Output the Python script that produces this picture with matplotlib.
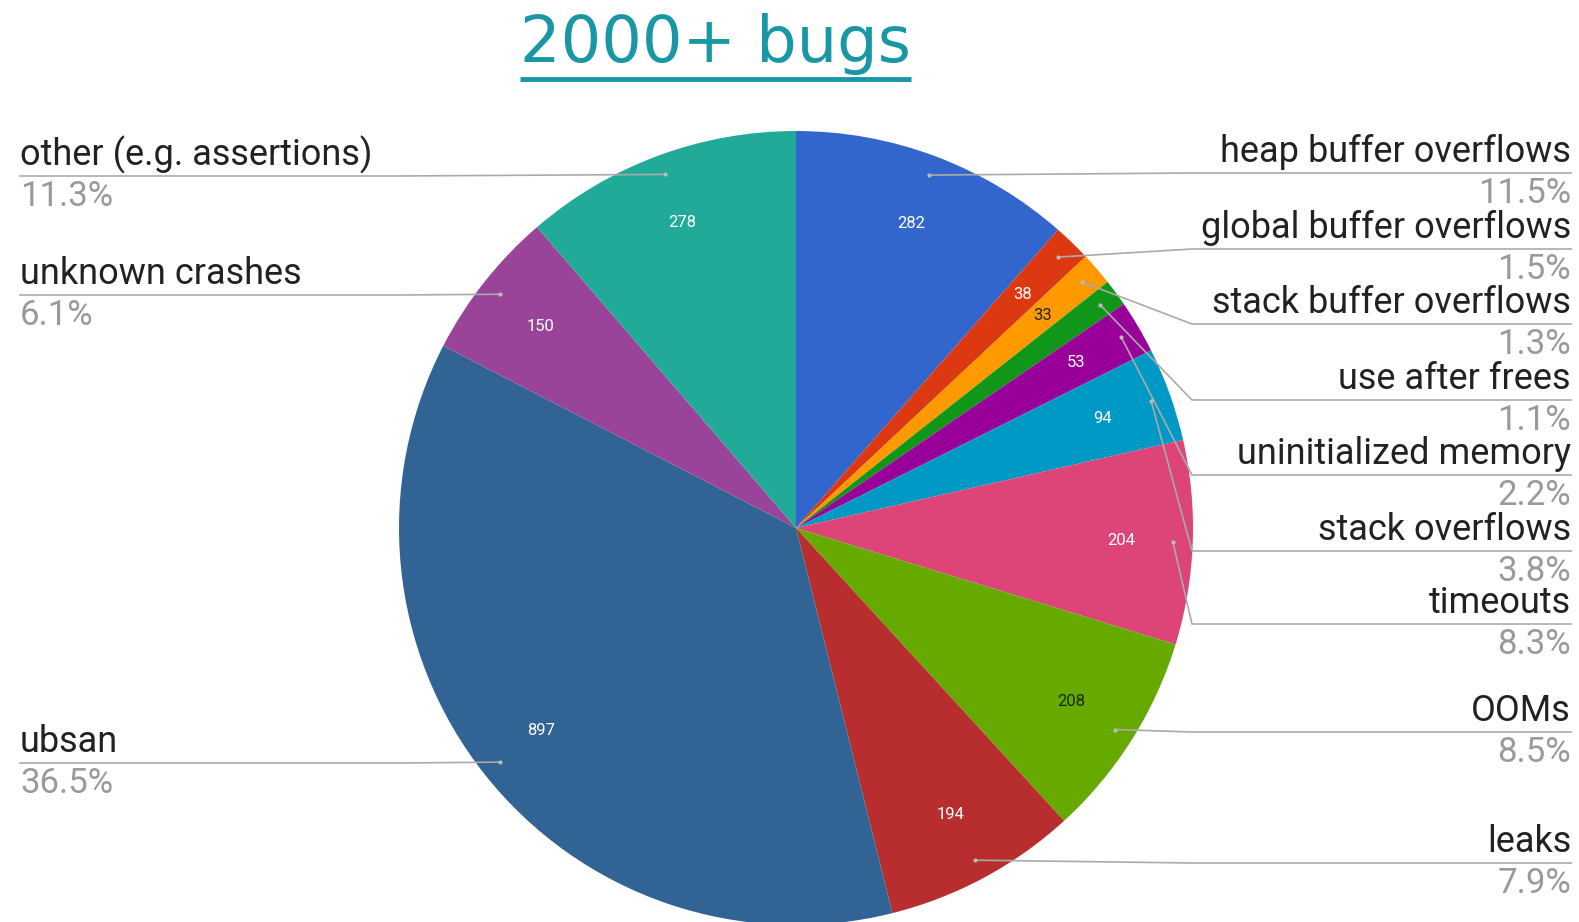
import numpy as np
import matplotlib

matplotlib.use('Agg')
import matplotlib.pyplot as plt

# Donnees du graphique
categories = ["heap buffer overflows", "global buffer overflows", "stack buffer overflows",
              "use after frees", "uninitialized memory", "stack overflows", "timeouts",
              "OOMs", "leaks", "ubsan", "unknown crashes", "other (e.g. assertions)"]
valeurs = [282, 38, 33, 27, 53, 94, 204, 208, 194, 897, 150, 278]
couleurs = ['#3366cc', '#dc3912', '#ff9900', '#109618', '#990099', '#0099c6',
            '#dd4477', '#66aa00', '#b82e2e', '#316395', '#994499', '#22aa99']
couleurs_texte = ['white', 'white', '#222222', 'white', 'white', 'white',
                  'white', '#1b2a00', 'white', 'white', 'white', 'white']
titre = "2000+ bugs"

# Mise en page (pixels, origine en haut a gauche)
W, H = 1579, 922
CX, CY, R = 796, 528, 397
cote = ['R', 'R', 'R', 'R', 'R', 'R', 'R', 'R', 'R', 'L', 'L', 'L']
ligne_y = [173, 249, 324, 400, 475, 551, 624, 732, 863, 763, 295, 176]
COUDE_D, COUDE_G = 1192, 400
X_D, X_G = 1571, 20

plt.rcParams['font.family'] = ['Roboto', 'DejaVu Sans']

fig = plt.figure(figsize=(W / 100, H / 100), dpi=100)
ax = fig.add_axes([0, 0, 1, 1])


def Y(py):
    return H - py


total = sum(valeurs)


def fmt_valeur(pct):
    n = int(round(pct * total / 100.0))
    return str(n) if n >= 30 else ''


wedges, textes, autotextes = ax.pie(
    valeurs, colors=couleurs, startangle=90, counterclock=False,
    center=(CX, Y(CY)), radius=R, autopct=fmt_valeur, pctdistance=0.82,
    labels=None, wedgeprops=dict(linewidth=0),
    textprops=dict(fontsize=12))
for t, c in zip(autotextes, couleurs_texte):
    t.set_color(c)

ax.set_xlim(0, W)
ax.set_ylim(0, H)
ax.set_aspect('equal')
ax.axis('off')

# Etiquettes avec lignes de rappel
for w, nom, v, s, ly in zip(wedges, categories, valeurs, cote, ligne_y):
    ang = np.deg2rad((w.theta1 + w.theta2) / 2)
    px = CX + 0.95 * R * np.cos(ang)
    py = Y(CY) + 0.95 * R * np.sin(ang)
    if s == 'R':
        xs = [px, COUDE_D, X_D]
        xt, ha = X_D, 'right'
    else:
        xs = [px, COUDE_G, X_G]
        xt, ha = X_G, 'left'
    ax.plot(xs, [py, Y(ly), Y(ly)], color='#aaaaaa', lw=1.2, zorder=3)
    ax.plot(px, py, 'o', ms=2, color='#bbbbbb', zorder=4)
    ax.text(xt, Y(ly - 11), nom, ha=ha, va='baseline', fontsize=26, color='#222222')
    ax.text(xt, Y(ly + 4), f"{v / total * 100:.1f}%", ha=ha, va='top',
            fontsize=25, color='#9a9a9a')

# Titre souligne
t = fig.text(715 / W, 1 - 62 / H, titre, ha='center', va='baseline',
             fontsize=46, color='#1a97a5', family='DejaVu Sans')
fig.canvas.draw()
bb = t.get_window_extent(fig.canvas.get_renderer())
ax.plot([bb.x0, bb.x1], [Y(79), Y(79)], color='#1a97a5', lw=3.5, solid_capstyle='butt')

plt.savefig("out.png", dpi=100)
